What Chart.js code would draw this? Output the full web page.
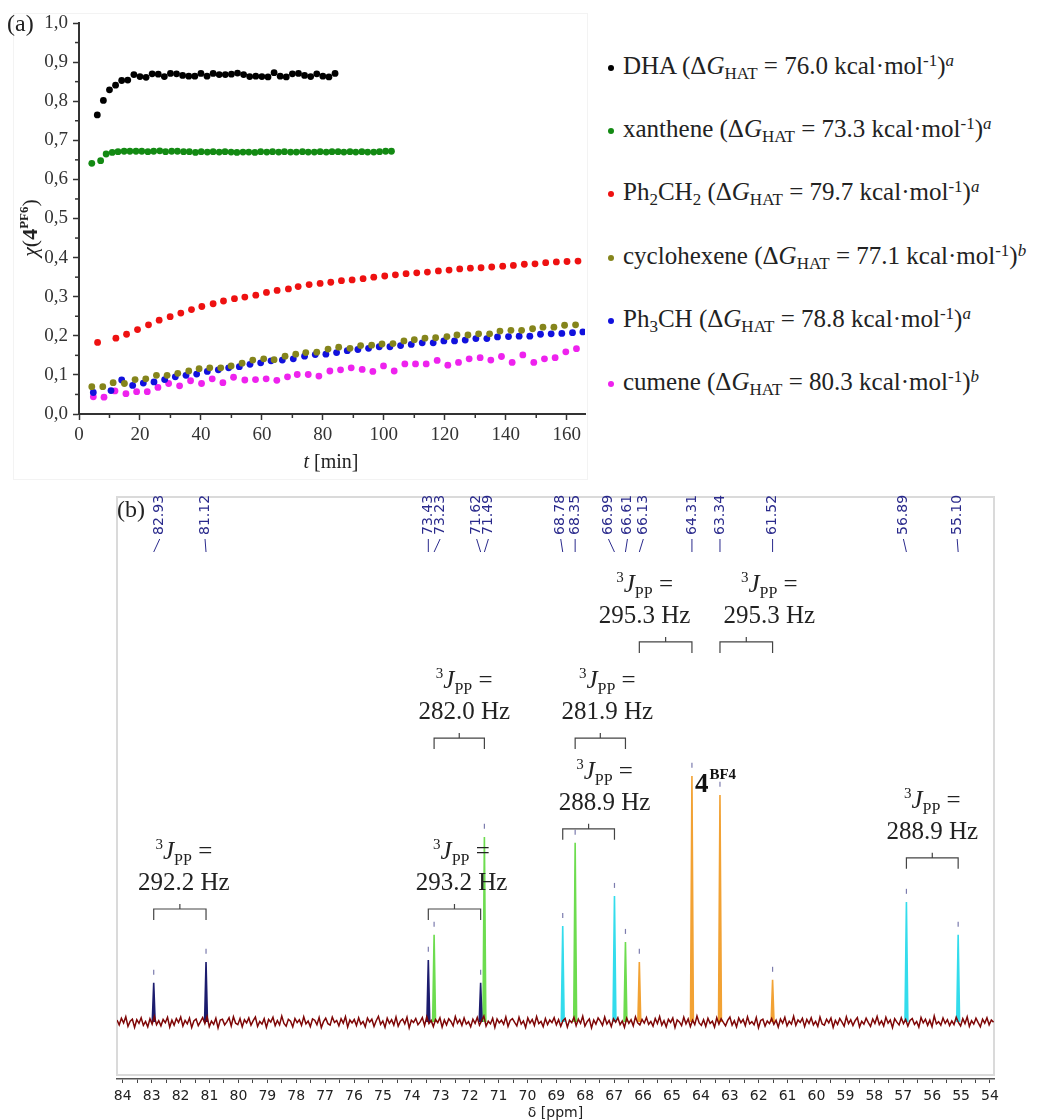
<!DOCTYPE html>
<html>
<head>
<meta charset="utf-8">
<script src="https://cdn.jsdelivr.net/npm/chart.js@4.4.1/dist/chart.umd.min.js"></script>
<style>
  body { margin: 0; background: #fff; width: 1039px; height: 1120px; position: relative; overflow: hidden; font-family: "Liberation Serif", serif; color: #222; }
  #frameA { position: absolute; left: 13px; top: 13px; width: 573px; height: 465px; border: 1px solid #f3f3f3; }
  #canvasA { position: absolute; left: 0; top: 0; }
  #canvasB { position: absolute; left: 0; top: 480px; }
  .panel { position: absolute; font-size: 24px; line-height: 24px; }
  #legend { position: absolute; left: 608px; top: 0; font-size: 25px; }
  .item { position: absolute; left: 0; white-space: nowrap; line-height: 30px; height: 30px; }
  .dot { display: inline-block; width: 6px; height: 6px; border-radius: 50%; margin-right: 9px; vertical-align: middle; }
  sub, sup { font-size: 68%; line-height: 0; position: relative; vertical-align: baseline; }
  sub { top: 0.3em; }
  sup { top: -0.5em; }
</style>
</head>
<body>
<div id="frameA"></div>
<canvas id="canvasA" width="590" height="480"></canvas>
<canvas id="canvasB" width="1039" height="640"></canvas>
<div class="panel" style="left:7px;top:11px">(a)</div>
<div class="panel" style="left:117px;top:497px">(b)</div>
<div id="legend"></div>

<script>
// ---- panel (a): conversion of 4^PF6 vs time ----
const seriesNames = ['DHA', 'xanthene', 'Ph2CH2', 'cyclohexene', 'Ph3CH', 'cumene'];
const seriesColors = ['#000000', '#138a13', '#ee1111', '#85851c', '#1111dd', '#ee22ee'];
const seriesLabels = [
    'DHA (Δ<i>G</i><sub>HAT</sub> = 76.0 kcal·mol<sup>-1</sup>)<sup><i>a</i></sup>',
    'xanthene (Δ<i>G</i><sub>HAT</sub> = 73.3 kcal·mol<sup>-1</sup>)<sup><i>a</i></sup>',
    'Ph<sub>2</sub>CH<sub>2</sub> (Δ<i>G</i><sub>HAT</sub> = 79.7 kcal·mol<sup>-1</sup>)<sup><i>a</i></sup>',
    'cyclohexene (Δ<i>G</i><sub>HAT</sub> = 77.1 kcal·mol<sup>-1</sup>)<sup><i>b</i></sup>',
    'Ph<sub>3</sub>CH (Δ<i>G</i><sub>HAT</sub> = 78.8 kcal·mol<sup>-1</sup>)<sup><i>a</i></sup>',
    'cumene (Δ<i>G</i><sub>HAT</sub> = 80.3 kcal·mol<sup>-1</sup>)<sup><i>b</i></sup>'
];

const tDHA = [6, 8, 10, 12, 14, 16, 18, 20, 22, 24, 26, 28, 30, 32, 34, 36, 38, 40, 42, 44,
    46, 48, 50, 52, 54, 56, 58, 60, 62, 64, 66, 68, 70, 72, 74, 76, 78, 80, 82, 84];
const xDHA = [0.765, 0.802, 0.829, 0.841, 0.853, 0.854, 0.868, 0.863, 0.861, 0.870,
    0.869, 0.863, 0.871, 0.870, 0.866, 0.864, 0.864, 0.871, 0.864, 0.871,
    0.868, 0.868, 0.869, 0.872, 0.868, 0.863, 0.864, 0.863, 0.862, 0.873,
    0.864, 0.862, 0.870, 0.871, 0.866, 0.863, 0.870, 0.864, 0.862, 0.871];

const tXanthene = [4.2, 7.1, 8.9, 10.9, 12.8, 14.8, 16.7, 18.7, 20.6, 22.6, 24.5, 26.5, 28.4,
    30.4, 32.3, 34.3, 36.2, 38.2, 40.1, 42.1, 44.0, 46.0, 47.9, 49.9, 51.8, 53.8, 55.7, 57.7,
    59.6, 61.6, 63.5, 65.5, 67.4, 69.4, 71.3, 73.3, 75.2, 77.2, 79.1, 81.1, 83.0, 85.0, 86.9,
    88.9, 90.8, 92.8, 94.7, 96.7, 98.6, 100.6, 102.5];
const xXanthene = [0.641, 0.648, 0.665, 0.669, 0.671, 0.672, 0.672, 0.672, 0.672, 0.671,
    0.672, 0.673, 0.671, 0.672, 0.672, 0.671, 0.671, 0.669, 0.671, 0.670,
    0.671, 0.670, 0.671, 0.670, 0.669, 0.670, 0.670, 0.669, 0.671, 0.670,
    0.671, 0.670, 0.671, 0.670, 0.670, 0.671, 0.670, 0.670, 0.671, 0.670,
    0.671, 0.671, 0.670, 0.671, 0.670, 0.671, 0.670, 0.670, 0.671, 0.672, 0.672];

const tPh2CH2 = [6.1, 12.1, 15.6, 19.2, 22.8, 26.3, 29.9, 33.4, 36.9, 40.3, 44.0, 47.4, 51.0,
    54.4, 58.0, 61.5, 65.0, 68.7, 71.9, 75.5, 79.1, 82.6, 86.1, 89.6, 93.2, 96.7, 100.3, 103.8,
    107.3, 110.8, 114.3, 117.9, 121.4, 124.9, 128.4, 131.9, 135.4, 139.0, 142.5, 146.1, 149.6,
    153.1, 156.6, 160.1, 163.7];
const xPh2CH2 = [0.183, 0.194, 0.204, 0.216, 0.228, 0.240, 0.249, 0.258, 0.267, 0.275,
    0.282, 0.289, 0.295, 0.299, 0.304, 0.311, 0.316, 0.320, 0.326, 0.331,
    0.334, 0.337, 0.341, 0.343, 0.346, 0.350, 0.353, 0.356, 0.359, 0.361,
    0.363, 0.366, 0.368, 0.371, 0.373, 0.374, 0.376, 0.378, 0.380, 0.383,
    0.384, 0.387, 0.389, 0.390, 0.391];

const tCyclohexene = [4.2, 7.8, 11.2, 14.9, 18.4, 21.9, 25.4, 28.9, 32.4, 36.0, 39.4, 42.9,
    46.5, 49.9, 53.5, 57.0, 60.6, 64.0, 67.6, 71.1, 74.4, 78.0, 81.7, 85.2, 88.9, 92.4, 96.0,
    99.4, 103.0, 106.6, 110.0, 113.5, 117.0, 120.7, 124.0, 127.6, 131.1, 134.7, 138.1, 141.7,
    145.2, 148.8, 152.2, 155.8, 159.3, 162.9];
const xCyclohexene = [0.070, 0.070, 0.080, 0.078, 0.088, 0.090, 0.099, 0.099, 0.104, 0.110,
    0.116, 0.118, 0.118, 0.123, 0.130, 0.138, 0.141, 0.139, 0.148, 0.153,
    0.157, 0.158, 0.166, 0.171, 0.168, 0.175, 0.176, 0.179, 0.180, 0.187,
    0.190, 0.194, 0.195, 0.198, 0.202, 0.202, 0.205, 0.205, 0.212, 0.214,
    0.214, 0.218, 0.222, 0.222, 0.227, 0.228];

const tPh3CH = [4.7, 10.5, 14.0, 17.6, 21.1, 24.6, 28.1, 31.6, 35.1, 38.6, 42.1, 45.7, 49.1,
    52.6, 56.1, 59.6, 63.0, 66.7, 70.3, 74.0, 77.5, 81.0, 84.5, 88.0, 91.5, 95.0, 98.5, 102.0,
    105.5, 109.0, 112.6, 116.2, 119.7, 123.2, 126.7, 130.2, 133.8, 137.3, 140.9, 144.4, 147.9,
    151.4, 154.9, 158.4, 161.9, 165.3];
const xPh3CH = [0.055, 0.060, 0.087, 0.073, 0.079, 0.082, 0.088, 0.095, 0.099, 0.102,
    0.109, 0.113, 0.118, 0.121, 0.127, 0.131, 0.136, 0.138, 0.141, 0.148,
    0.152, 0.153, 0.157, 0.162, 0.165, 0.168, 0.172, 0.172, 0.175, 0.178,
    0.182, 0.182, 0.187, 0.187, 0.189, 0.193, 0.193, 0.197, 0.198, 0.199,
    0.199, 0.204, 0.205, 0.206, 0.208, 0.210];

const tCumene = [4.7, 8.2, 11.8, 15.4, 18.9, 22.4, 25.9, 29.4, 33.0, 36.6, 40.2, 43.7, 47.2,
    50.7, 54.4, 57.9, 61.4, 64.9, 68.4, 71.6, 75.2, 78.7, 82.3, 85.8, 89.3, 92.9, 96.4, 99.9,
    103.4, 106.9, 110.4, 113.9, 117.5, 121.0, 124.5, 128.0, 131.6, 135.1, 138.6, 142.1, 145.6,
    149.2, 152.7, 156.2, 159.7, 163.2];
const xCumene = [0.044, 0.043, 0.059, 0.052, 0.057, 0.057, 0.068, 0.078, 0.072, 0.085,
    0.078, 0.090, 0.080, 0.094, 0.087, 0.088, 0.090, 0.086, 0.095, 0.101,
    0.101, 0.097, 0.110, 0.113, 0.118, 0.114, 0.109, 0.123, 0.110, 0.128,
    0.128, 0.128, 0.137, 0.125, 0.132, 0.141, 0.144, 0.138, 0.147, 0.132,
    0.151, 0.132, 0.141, 0.144, 0.159, 0.167];

const timeTicks = [0, 20, 40, 60, 80, 100, 120, 140, 160];
const timeMinorTicks = [10, 30, 50, 70, 90, 110, 130, 150];
const convTicks = [0, 0.1, 0.2, 0.3, 0.4, 0.5, 0.6, 0.7, 0.8, 0.9, 1.0];
const convMinorTicks = [0.05, 0.15, 0.25, 0.35, 0.45, 0.55, 0.65, 0.75, 0.85, 0.95];

// ---- panel (b): 31P NMR spectrum ----
const peakPpm = [82.93, 81.12, 73.43, 73.23, 71.62, 71.49, 68.78, 68.35, 66.99, 66.61,
    66.13, 64.31, 63.34, 61.52, 56.89, 55.10];
const peakHeight = [15.9, 24.4, 25.2, 35.4, 15.9, 75.2, 39.0, 72.8, 51.2, 32.5,
    24.4, 100, 92.3, 17.1, 48.8, 35.4];
const peakGroup = [0, 0, 0, 1, 0, 1, 2, 1, 2, 1, 3, 3, 3, 3, 2, 2];
const groupColors = ['#1c1c6e', '#6ddc4f', '#33dcec', '#f2a234'];

const couplingFrom = [82.93, 73.43, 73.23, 68.78, 68.35, 66.13, 63.34, 56.89];
const couplingTo = [81.12, 71.62, 71.49, 66.99, 66.61, 64.31, 61.52, 55.10];
const couplingHz = ['292.2', '293.2', '282.0', '288.9', '281.9', '295.3', '295.3', '288.9'];

const ppmTicks = [54, 54.5, 55, 55.5, 56, 56.5, 57, 57.5, 58, 58.5, 59, 59.5, 60, 60.5, 61, 61.5,
    62, 62.5, 63, 63.5, 64, 64.5, 65, 65.5, 66, 66.5, 67, 67.5, 68, 68.5, 69, 69.5, 70, 70.5,
    71, 71.5, 72, 72.5, 73, 73.5, 74, 74.5, 75, 75.5, 76, 76.5, 77, 77.5, 78, 78.5, 79, 79.5,
    80, 80.5, 81, 81.5, 82, 82.5, 83, 83.5, 84];

// baseline noise (tenths of an intensity unit), sampled from 84.2 ppm downwards
const noiseStart = 84.2;
const noiseStep = 0.0760;
const noiseTenths = [
    8, -12, 15, -4, 21, -18, 3, 11, -22, 9, -6, 17, -14, 2, -20, 13, -9, 23, -11, 5,
    -16, 10, -3, 19, -21, 7, -13, 14, -2, 20, -17, 6, -8, 16, -23, 4, 12, -15, 1, 18,
    -7, 22, -19, 3, -10, 15, -24, 8, 11, -12, 0, 17, -16, 21, -5, -11, 14, -20, 9, -4,
    16, -13, 5, 20, -18, 2, -9, 13, -22, 10, -1, 19, -15, 6, -12, 24, -6, -17, 11, 3,
    -20, 14, -3, 9, -14, 21, -8, 4, -19, 12, 7, -11, 18, -23, 1, 15, -7, -13, 20, -2,
    6, -16, 13, -5, 22, -21, 8, -4, 10, -15, 17, -9, 2, -20, 16, -1, 11, -18, 5, 23,
    -10, 4, -22, 15, -6, 9, -13, 20, -17, 3, 12, -8, 19, -24, 7, -2, 14, -11, 0, 18,
    -15, 21, -7, 6, -19, 10, -3, 17, -21, 8, -12, 13, 2, -16, 22, -5, 9, -14, 16, -9,
    1, -20, 11, -6, 18, -13, 5, 24, -17, 3, -8, 15, -22, 12, -4, 7, -10, 20, -18, 6,
    13, -2, -16, 19, -9, 4, -23, 16, -5, 10, -14, 22, -7, 2, -19, 14, -11, 8, -3, 17,
    -12, 9, -18, 5, 14, -21, 7, -3, 19, -15, 11, -6, 23, -17, 1, 12, -24, 8, -9, 16,
    3, -14, 20, -8, 6, -19, 13, -1, 17, -11, 4, -22, 15, -6, 9, -16, 21, -4, -12, 10,
    -5, 18, -10, 2, -17, 14, -7, 22, -13, 5, -20, 11, -2, 16, -23, 8, 0, -15, 19, -8,
    12, -19, 7, -11, 24, -4, -14, 9, -18, 15, -6, 3, -21, 17, -9, 13, -2, -16, 6, 20,
    -13, 5, -20, 16, -3, 10, -15, 21, -8, 1, -12, 18, -24, 6, 11, -17, 4, -7, 14, -10,
    7, -21, 12, -5, 19, -16, 3, -9, 23, -14, 8, -2, 15, -19, 10, -6, 17, -12, 2, -18,
    20, -8, -13, 11, -4, 16, -22, 6, -10, 14, -1, -17, 21, -7, 9, -15, 5, 18, -20, 3,
    -9, 15, -3, -18, 12, -6, 22, -11, 4, -16, 19, -5, 8, -23, 13, -1, -12, 17, -7, 10,
    -17, 6, 14, -10, 2, -21, 18, -4, 11, -14, 7, -19, 24, -8, 1, -13, 16, -6, 9, -15,
    4, -11, 19, -2, -16, 13, -7, 21, -18, 5, -9, 15, -3, -20, 11, -5, 17, -12, 8, -1
];

// ---- layout bits (pixel offsets and label levels, not data) ----
const labelDx = [6, -1, 0, 6, -4, 4, -2, 0, -6, 2, 4, 0, 0, 0, -3, -1];
const bracketLevel = [45.9, 45.9, 115.4, 78.5, 115.4, 154.5, 154.5, 66.7];
const bracketTextDx = [4, 7, 5, 16, 7, -21, 23, 0];
const navy = '#2a2a8c';

document.addEventListener('DOMContentLoaded', function() {
    buildLegend();
    drawKinetics();
    drawSpectrum();
});

function buildLegend() {
    const legend = document.getElementById('legend');
    const centers = [66, 129, 192, 256, 319, 382];
    seriesLabels.forEach((html, i) => {
        const item = document.createElement('div');
        item.className = 'item';
        item.style.top = (centers[i] - 15) + 'px';
        item.innerHTML = '<span class="dot" style="background:' + seriesColors[i] + '"></span>' + html;
        legend.appendChild(item);
    });
}

// draws a line of mixed fonts centred on cx, baseline at by
function drawRich(ctx, parts, cx, by) {
    let w = 0;
    parts.forEach(p => { ctx.font = p.font; w += ctx.measureText(p.text).width; });
    let xx = cx - w / 2;
    ctx.textAlign = 'left';
    ctx.textBaseline = 'alphabetic';
    parts.forEach(p => {
        ctx.font = p.font;
        ctx.fillText(p.text, xx, by + (p.dy || 0));
        xx += ctx.measureText(p.text).width;
    });
}

function drawKinetics() {
    const ctx = document.getElementById('canvasA').getContext('2d');
    const times = [tDHA, tXanthene, tPh2CH2, tCyclohexene, tPh3CH, tCumene];
    const values = [xDHA, xXanthene, xPh2CH2, xCyclohexene, xPh3CH, xCumene];

    const datasets = seriesNames.map((name, i) => ({
        label: name,
        data: times[i].map((t, k) => ({ x: t, y: values[i][k] })),
        pointRadius: 3.4,
        pointBorderWidth: 0,
        backgroundColor: seriesColors[i],
        borderColor: seriesColors[i]
    }));

    const axisExtras = {
        id: 'axisExtras',
        afterDraw(chart) {
            const { ctx, chartArea: a, scales: { x, y } } = chart;
            ctx.save();
            ctx.strokeStyle = '#333';
            ctx.lineWidth = 1.5;
            timeMinorTicks.forEach(v => {
                const px = x.getPixelForValue(v);
                ctx.beginPath(); ctx.moveTo(px, a.bottom); ctx.lineTo(px, a.bottom + 4); ctx.stroke();
            });
            convMinorTicks.forEach(v => {
                const py = y.getPixelForValue(v);
                ctx.beginPath(); ctx.moveTo(a.left, py); ctx.lineTo(a.left - 4, py); ctx.stroke();
            });
            ctx.fillStyle = '#222';
            drawRich(ctx, [
                { text: 't', font: 'italic 20px "Liberation Serif"' },
                { text: ' [min]', font: '20px "Liberation Serif"' }
            ], (a.left + a.right) / 2 - 1, a.bottom + 54);
            ctx.translate(37, 228);
            ctx.rotate(-Math.PI / 2);
            drawRich(ctx, [
                { text: 'χ', font: 'italic 22px "Liberation Serif"' },
                { text: '(', font: '22px "Liberation Serif"' },
                { text: '4', font: 'bold 22px "Liberation Serif"' },
                { text: 'PF6', font: 'bold 13px "Liberation Serif"', dy: -9 },
                { text: ')', font: '22px "Liberation Serif"' }
            ], 0, 0);
            ctx.restore();
        }
    };

    new Chart(ctx, {
        type: 'scatter',
        data: { datasets: datasets },
        options: {
            responsive: false,
            animation: false,
            layout: { padding: { top: 23, right: 5, left: 0, bottom: 0 } },
            plugins: { legend: { display: false }, tooltip: { enabled: false } },
            scales: {
                x: {
                    type: 'linear',
                    min: 0,
                    max: 166,
                    afterFit: s => { s.height = 66; },
                    afterBuildTicks: s => { s.ticks = timeTicks.map(v => ({ value: v })); },
                    ticks: { color: '#333', font: { family: 'Liberation Serif', size: 19 }, padding: 4, maxRotation: 0 },
                    grid: { drawOnChartArea: false, tickLength: 6, tickColor: '#333', tickWidth: 1.5 },
                    border: { color: '#333', width: 2 }
                },
                y: {
                    min: 0,
                    max: 1,
                    afterFit: s => { s.width = 79; },
                    afterBuildTicks: s => { s.ticks = convTicks.map(v => ({ value: v })); },
                    ticks: {
                        color: '#333',
                        font: { family: 'Liberation Serif', size: 19 },
                        padding: 5,
                        callback: v => v.toFixed(1).replace('.', ',')
                    },
                    grid: { drawOnChartArea: false, tickLength: 6, tickColor: '#333', tickWidth: 1.5 },
                    border: { color: '#333', width: 2 }
                }
            }
        },
        plugins: [axisExtras]
    });
}

function drawSpectrum() {
    const ctx = document.getElementById('canvasB').getContext('2d');

    const datasets = [];
    datasets.push({
        data: noiseTenths.map((v, i) => ({ x: noiseStart - i * noiseStep, y: v / 10 })),
        showLine: true,
        borderColor: '#7e0606',
        borderWidth: 1.5,
        pointRadius: 0
    });
    peakPpm.forEach((p, i) => {
        const c = groupColors[peakGroup[i]];
        datasets.push({
            data: [{ x: p + 0.05, y: 0 }, { x: p, y: peakHeight[i] }, { x: p - 0.05, y: 0 }],
            showLine: true,
            borderColor: c,
            backgroundColor: c,
            borderWidth: 1.6,
            fill: 'origin',
            pointRadius: 0
        });
    });
    datasets.push({
        data: peakPpm.map((p, i) => ({ x: p, y: peakHeight[i] + 4.3 })),
        pointStyle: 'line',
        rotation: 90,
        pointRadius: 2.5,
        borderColor: '#7c7cae',
        borderWidth: 1.2
    });

    const specAnnotations = {
        id: 'specAnnotations',
        beforeDatasetsDraw(chart) {
            const { ctx, chartArea: a } = chart;
            ctx.save();
            ctx.strokeStyle = '#dadada';
            ctx.lineWidth = 2;
            ctx.strokeRect(a.left, a.top, a.right - a.left, a.bottom - a.top - 4);
            ctx.restore();
        },
        afterDraw(chart) {
            const { ctx, chartArea: a, scales: { x, y } } = chart;
            ctx.save();

            // peak labels along the top
            ctx.fillStyle = navy;
            ctx.strokeStyle = navy;
            ctx.lineWidth = 1;
            ctx.font = '14px "DejaVu Sans"';
            peakPpm.forEach((p, i) => {
                const px = x.getPixelForValue(p);
                const lx = px + labelDx[i];
                ctx.save();
                ctx.translate(lx, a.top + 38);
                ctx.rotate(-Math.PI / 2);
                ctx.textAlign = 'left';
                ctx.textBaseline = 'middle';
                ctx.fillText(p.toFixed(2), 0, 0);
                ctx.restore();
                ctx.beginPath();
                ctx.moveTo(lx, a.top + 42);
                ctx.lineTo(px, a.top + 55);
                ctx.stroke();
            });

            // coupling brackets
            ctx.strokeStyle = '#444';
            ctx.fillStyle = '#222';
            ctx.lineWidth = 1.2;
            couplingFrom.forEach((p1, i) => {
                const x1 = x.getPixelForValue(p1);
                const x2 = x.getPixelForValue(couplingTo[i]);
                const yl = y.getPixelForValue(bracketLevel[i]);
                const xm = (x1 + x2) / 2;
                const xt = xm + bracketTextDx[i];
                ctx.beginPath();
                ctx.moveTo(x1, yl + 11); ctx.lineTo(x1, yl); ctx.lineTo(x2, yl); ctx.lineTo(x2, yl + 11);
                ctx.moveTo(xm, yl); ctx.lineTo(xm, yl - 5);
                ctx.stroke();
                drawRich(ctx, [
                    { text: '3', font: '15px "Liberation Serif"', dy: -10 },
                    { text: 'J', font: 'italic 25px "Liberation Serif"' },
                    { text: 'PP', font: '16px "Liberation Serif"', dy: 6 },
                    { text: ' =', font: '25px "Liberation Serif"' }
                ], xt, yl - 50);
                drawRich(ctx, [
                    { text: couplingHz[i] + ' Hz', font: '25px "Liberation Serif"' }
                ], xt, yl - 19);
            });

            // 4^BF4 label beside the tallest peak
            const xb = x.getPixelForValue(64.31);
            const yb = y.getPixelForValue(peakHeight[11]);
            ctx.fillStyle = '#111';
            ctx.textAlign = 'left';
            ctx.textBaseline = 'alphabetic';
            ctx.font = 'bold 27px "Liberation Serif"';
            ctx.fillText('4', xb + 3, yb + 16);
            const w4 = ctx.measureText('4').width;
            ctx.font = 'bold 15px "Liberation Serif"';
            ctx.fillText('BF4', xb + 3 + w4 + 1, yb + 3);

            // axis title
            ctx.fillStyle = '#222';
            ctx.font = '14px "DejaVu Sans"';
            ctx.textAlign = 'center';
            ctx.fillText('δ [ppm]', (a.left + a.right) / 2, a.bottom + 38);
            ctx.restore();
        }
    };

    new Chart(ctx, {
        type: 'scatter',
        data: { datasets: datasets },
        options: {
            responsive: false,
            animation: false,
            layout: { padding: { left: 117, right: 45, top: 17, bottom: 0 } },
            plugins: { legend: { display: false }, tooltip: { enabled: false } },
            scales: {
                x: {
                    type: 'linear',
                    reverse: true,
                    min: 53.86,
                    max: 84.2,
                    afterFit: s => { s.height = 41; },
                    afterBuildTicks: s => { s.ticks = ppmTicks.map(v => ({ value: v })); },
                    ticks: {
                        autoSkip: false,
                        maxRotation: 0,
                        color: '#222',
                        padding: 5,
                        font: { family: 'DejaVu Sans', size: 14 },
                        callback: v => Number.isInteger(v) ? String(v) : ''
                    },
                    grid: { drawOnChartArea: false, tickLength: 4, tickColor: '#444' },
                    border: { color: '#555', width: 1.5 }
                },
                y: { display: false, min: -23.2, max: 213.4 }
            }
        },
        plugins: [specAnnotations]
    });
}
</script>
</body>
</html>
